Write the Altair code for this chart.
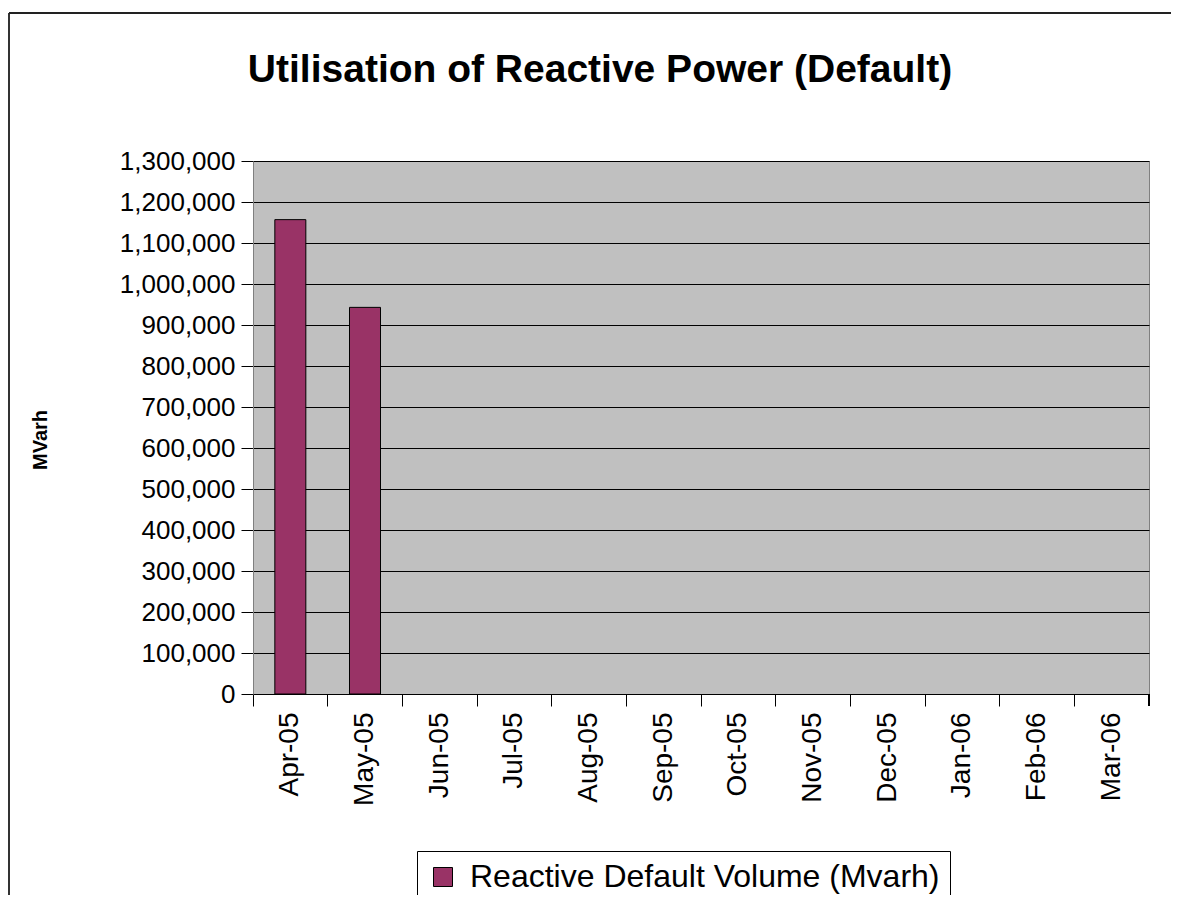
import altair as alt
import pandas as pd

months = ["Apr-05", "May-05", "Jun-05", "Jul-05", "Aug-05", "Sep-05",
          "Oct-05", "Nov-05", "Dec-05", "Jan-06", "Feb-06", "Mar-06"]
volumes = [1157000, 943000, None, None, None, None, None, None, None, None, None, None]
series_name = "Reactive Default Volume (Mvarh)"
chart_title = ["Utilisation of Reactive Power (Default)"]
y_ticks = list(range(0, 1300001, 100000))

df = pd.DataFrame({"month": months, "volume": volumes, "series": [series_name] * len(months)})
title_df = pd.DataFrame({"t": chart_title})

W, H = 896, 533
FONT = "Liberation Sans"

x_enc = alt.X(
    "month:N", sort=months,
    scale=alt.Scale(domain=months, paddingInner=0, paddingOuter=0),
    axis=alt.Axis(title=None, labelAngle=-90, labelFont=FONT, labelFontSize=28,
                  labelColor="black", bandPosition=0,
                  tickColor="black", tickSize=12, tickWidth=1, domainColor="black",
                  domainWidth=1, labelPadding=6, grid=False),
)
y_enc = alt.Y(
    "volume:Q",
    scale=alt.Scale(domain=[0, 1300000], nice=False),
    axis=alt.Axis(values=y_ticks, format=",.0f", labelFont=FONT, labelFontSize=26,
                  labelColor="black", tickColor="black", tickSize=12, tickWidth=1,
                  domainColor="#808080", gridColor="black", gridWidth=1, grid=True,
                  labelPadding=6, title="MVarh", titleFont=FONT, titleFontSize=20,
                  titleFontWeight="bold", titleColor="black", titleAngle=-90,
                  titleX=-213, titleY=H / 2 + 12, titleAlign="center",
                  titleBaseline="middle"),
)

bars = alt.Chart(df).mark_bar(size=31, stroke="black", strokeWidth=1).encode(
    x=x_enc,
    y=y_enc,
    color=alt.Color("series:N", scale=alt.Scale(domain=[series_name], range=["#993366"]),
                    legend=alt.Legend(orient="none", legendX=164, legendY=690, title=None,
                                      labelFont=FONT, labelFontSize=32, labelColor="black",
                                      symbolType="square", symbolSize=361,
                                      symbolStrokeColor="black", symbolStrokeWidth=1,
                                      symbolFillColor="#993366",
                                      strokeColor="black", fillColor="white",
                                      padding=10, labelLimit=0, labelOffset=11)),
)

last_tick = alt.Chart(df).mark_rule(color="black", strokeWidth=1).encode(
    x=alt.value(W), y=alt.value(H), y2=alt.value(H + 12)
)
border_left = alt.Chart(df).mark_rule(color="#333333", strokeWidth=2).encode(
    x=alt.value(-244), y=alt.value(-148), y2=alt.value(H + 300)
)
border_top = alt.Chart(df).mark_rule(color="#222222", strokeWidth=2).encode(
    x=alt.value(-244), x2=alt.value(W + 100), y=alt.value(-148)
)
title_text = alt.Chart(title_df).mark_text(
    font=FONT, fontSize=39, fontWeight="bold", color="black",
    align="center", baseline="middle"
).encode(text="t:N", x=alt.value(347), y=alt.value(-91))

chart = alt.layer(bars, last_tick, border_left, border_top, title_text).properties(
    width=W, height=H,
    padding={"left": 245, "top": 153, "right": 22, "bottom": 201},
    autosize=alt.AutoSizeParams(type="none"),
    view=alt.ViewBackground(fill="#C0C0C0", stroke="#808080", strokeWidth=1),
).configure(background="white")

chart.save("out.html", embed_options={"renderer": "svg", "actions": False})
